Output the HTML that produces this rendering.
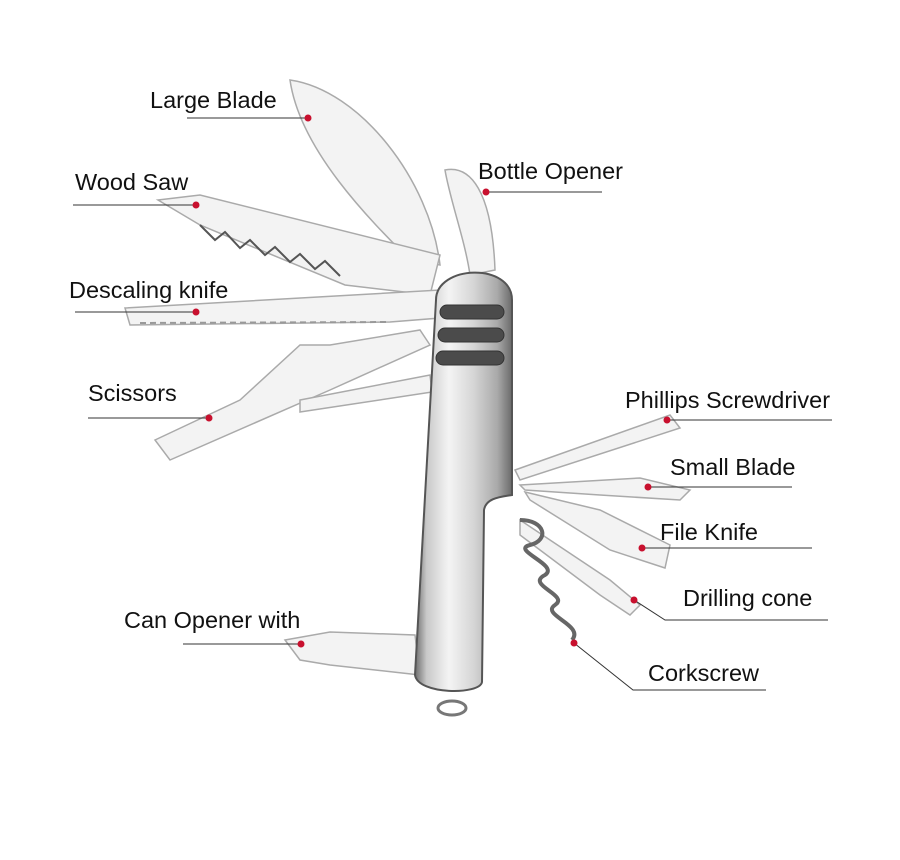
<!DOCTYPE html>
<html><head><meta charset="utf-8"><style>
html,body{margin:0;padding:0;background:#fff;}
svg{display:block}
text{font-family:"Liberation Sans",sans-serif;font-size:23.5px;fill:#111;}
</style></head><body>
<svg width="900" height="860" viewBox="0 0 900 860">
<defs>
<linearGradient id="h" x1="0" x2="1" y1="0" y2="0">
<stop offset="0" stop-color="#6d6d6d"/><stop offset="0.12" stop-color="#c9c9c9"/><stop offset="0.35" stop-color="#f4f4f4"/><stop offset="0.6" stop-color="#d6d6d6"/><stop offset="0.85" stop-color="#a9a9a9"/><stop offset="1" stop-color="#6a6a6a"/>
</linearGradient>
</defs>
<rect x="0" y="0" width="900" height="860" fill="#fff"/>
<g fill="#f3f3f3" stroke="#aaa" stroke-width="1.5">
<path d="M290 80 C360 90 430 180 440 265 L410 260 C370 220 300 150 290 80 Z"/>
<path d="M445 170 C470 165 492 190 495 270 L470 275 C465 240 450 200 445 170 Z"/>
<path d="M158 200 L200 195 L440 255 L430 295 L345 285 L200 225 Z"/>
<path d="M125 308 L440 290 L440 318 L390 322 L130 325 Z"/>
<path d="M155 440 L240 400 L300 345 L330 345 L420 330 L430 345 L330 390 L170 460 Z"/>
<path d="M300 400 L430 375 L432 392 L300 412 Z"/>
<path d="M285 640 L330 632 L415 635 L420 675 L330 665 L300 660 Z"/>
<path d="M515 470 L670 415 L680 428 L520 480 Z"/>
<path d="M520 485 L640 478 L690 490 L680 500 L600 495 L525 490 Z"/>
<path d="M525 492 L600 510 L670 545 L665 568 L610 550 L530 500 Z"/>
<path d="M520 520 L610 580 L640 605 L630 615 L600 595 L520 535 Z"/>
</g>
<path d="M200 225 L215 240 L225 232 L240 248 L250 240 L265 255 L275 247 L290 262 L300 254 L315 269 L325 261 L340 276" fill="none" stroke="#555" stroke-width="2"/>
<path d="M140 323 L390 322" stroke="#999" stroke-width="2" stroke-dasharray="6 4"/>
<path d="M436 300 C436 265 512 262 512 300 L512 495 C500 497 486 498 484 510 L482 682 C480 695 418 695 415 675 Z" fill="url(#h)" stroke="#555" stroke-width="2"/>
<g fill="#4b4b4b" stroke="#333" stroke-width="1">
<rect x="440" y="305" width="64" height="14" rx="7"/>
<rect x="438" y="328" width="66" height="14" rx="7"/>
<rect x="436" y="351" width="68" height="14" rx="7"/>
</g>
<ellipse cx="452" cy="708" rx="14" ry="7" fill="none" stroke="#777" stroke-width="3"/>
<path d="M520 520 C545 520 550 540 530 545 C510 550 560 565 545 575 C525 585 570 595 555 605 C540 615 585 625 572 640" fill="none" stroke="#666" stroke-width="4"/>
<g stroke="#333" stroke-width="1" fill="none">
<line x1="187" y1="118" x2="308" y2="118"/>
<line x1="73" y1="205" x2="196" y2="205"/>
<line x1="487" y1="192" x2="602" y2="192"/>
<line x1="75" y1="312" x2="196" y2="312"/>
<line x1="88" y1="418" x2="209" y2="418"/>
<line x1="667" y1="420" x2="832" y2="420"/>
<line x1="648" y1="487" x2="792" y2="487"/>
<line x1="642" y1="548" x2="812" y2="548"/>
<polyline points="634,600 665,620 828,620"/>
<polyline points="574,643 633,690 766,690"/>
<line x1="183" y1="644" x2="301" y2="644"/>
</g>
<g fill="#c8102e">
<circle cx="308" cy="118" r="3.5"/><circle cx="196" cy="205" r="3.5"/><circle cx="486" cy="192" r="3.5"/>
<circle cx="196" cy="312" r="3.5"/><circle cx="209" cy="418" r="3.5"/><circle cx="667" cy="420" r="3.5"/>
<circle cx="648" cy="487" r="3.5"/><circle cx="642" cy="548" r="3.5"/><circle cx="634" cy="600" r="3.5"/>
<circle cx="574" cy="643" r="3.5"/><circle cx="301" cy="644" r="3.5"/>
</g>
<text x="150" y="108">Large Blade</text>
<text x="75" y="190">Wood Saw</text>
<text x="478" y="179">Bottle Opener</text>
<text x="69" y="298">Descaling knife</text>
<text x="88" y="401">Scissors</text>
<text x="625" y="408">Phillips Screwdriver</text>
<text x="670" y="475">Small Blade</text>
<text x="660" y="540">File Knife</text>
<text x="683" y="606">Drilling cone</text>
<text x="648" y="681">Corkscrew</text>
<text x="124" y="628">Can Opener with</text>
</svg>
</body></html>
